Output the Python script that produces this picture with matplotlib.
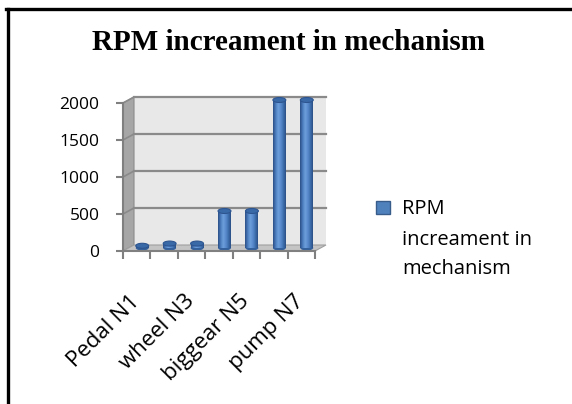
import matplotlib
matplotlib.use("Agg")
import matplotlib.pyplot as plt
import numpy as np
from matplotlib.patches import Rectangle, Ellipse, Polygon
from matplotlib.lines import Line2D
from matplotlib.colors import LinearSegmentedColormap
import matplotlib.transforms as mtransforms

categories = ["Pedal N1", "N2", "wheel N3", "N4", "biggear N5", "N6", "pump N7"]
values = [30, 60, 60, 500, 500, 2000, 2000]
yticks = [0, 500, 1000, 1500, 2000]
series_name = "RPM\nincreament in\nmechanism"
title = "RPM increament in mechanism"

W, H = 572, 404
fig = plt.figure(figsize=(W / 100, H / 100), dpi=100)
fig.patch.set_facecolor("white")

left, right = 123, 315
y0, y1 = 251, 103
ax = fig.add_axes([left / W, 1 - y0 / H, (right - left) / W, (y0 - y1) / H])
ax.set_xlim(-0.5, len(categories) - 0.5)
ax.set_ylim(0, 2000)
ax.patch.set_alpha(0)
for s in ["top", "right"]:
    ax.spines[s].set_visible(False)
ax.spines["left"].set_color("#808080")
ax.spines["bottom"].set_color("#808080")
ax.spines["left"].set_linewidth(1.5)
ax.spines["bottom"].set_linewidth(1.5)

font = "Open Sans"
ax.set_yticks(yticks)
ax.set_yticklabels([str(v) for v in yticks], fontsize=12.5, family=font)
ax.tick_params(axis="y", length=5, width=1.5, color="#808080", pad=12)

xs = np.arange(len(categories))
ax.set_xticks(xs)
ax.set_xticklabels([c if i % 2 == 0 else "" for i, c in enumerate(categories)],
                   rotation=45, ha="right", va="center", rotation_mode="anchor",
                   fontsize=16, family=font)
ax.tick_params(axis="x", which="major", length=0, pad=34)
ax.set_xticks(np.arange(-0.5, len(categories)), minor=True)
ax.tick_params(axis="x", which="minor", length=6, width=1.5, color="#808080")

DX, DY = 11, 6
back = ax.transData + mtransforms.ScaledTranslation(DX / 100, DY / 100, fig.dpi_scale_trans)
mid = ax.transData + mtransforms.ScaledTranslation(DX / 200, DY / 200, fig.dpi_scale_trans)

xl0, xl1 = -0.5, len(categories) - 0.5
ymax = yticks[-1]
ax.add_patch(Rectangle((xl0, 0), xl1 - xl0, ymax, transform=back,
                       facecolor="#e8e8e8", edgecolor="none", zorder=0.1, clip_on=False))

def disp(pt, tr):
    return tr.transform(pt)

def poly_disp(pts_tr, **kw):
    pts = [disp(p, t) for p, t in pts_tr]
    poly = Polygon(pts, closed=True, transform=None, clip_on=False, **kw)
    ax.add_artist(poly)
    return poly

fig.canvas.draw()
poly_disp([((xl0, 0), ax.transData), ((xl0, ymax), ax.transData),
           ((xl0, ymax), back), ((xl0, 0), back)],
          facecolor="#a6a6a6", edgecolor="#8c8c8c", lw=0.8, zorder=0.2)
poly_disp([((xl0, 0), ax.transData), ((xl1, 0), ax.transData),
           ((xl1, 0), back), ((xl0, 0), back)],
          facecolor="#c4c4c4", edgecolor="#a0a0a0", lw=0.8, zorder=0.3)

for v in yticks[1:]:
    ax.add_line(Line2D([xl0, xl1], [v, v], transform=back, color="#8a8a8a",
                       lw=1.6, zorder=0.25, clip_on=False))
    p0 = disp((xl0, v), ax.transData)
    p1 = disp((xl0, v), back)
    ax.add_line(Line2D([p0[0], p1[0]], [p0[1], p1[1]], transform=None,
                       color="#8a8a8a", lw=1.2, zorder=0.25, clip_on=False))

cmap = LinearSegmentedColormap.from_list(
    "cyl", ["#2a4f85", "#4a7bbc", "#6e9fdc", "#5a8ccd", "#3f6fae", "#2a4f85"])
grad = np.linspace(0, 1, 64).reshape(1, -1)
bw = 0.47
px_per_unit = (y0 - y1) / ymax
ell_h = 5 / px_per_unit
for x, v in zip(xs, values):
    rect = Rectangle((x - bw / 2, 0), bw, v, transform=mid, facecolor="#4f81bd",
                     edgecolor="none", zorder=2, clip_on=False)
    ax.add_patch(rect)
    im = ax.imshow(grad, cmap=cmap, aspect="auto", extent=[x - bw / 2, x + bw / 2, 0, v],
                   zorder=2.1, interpolation="bilinear")
    im.set_transform(mid)
    im.set_clip_path(rect)
    ax.add_patch(Ellipse((x, 0), bw, ell_h, transform=mid, facecolor="#34609c",
                         edgecolor="none", zorder=1.9, clip_on=False))
    ax.add_patch(Ellipse((x, v), bw, ell_h, transform=mid, facecolor="#3a69a8",
                         edgecolor="#2d5590", lw=0.8, zorder=2.2, clip_on=False))
ax.set_xlim(-0.5, len(categories) - 0.5)
ax.set_ylim(0, 2000)

fig.text(288 / W, 1 - 42 / H, title, ha="center", va="center", fontsize=21,
         fontweight="bold", family="Liberation Serif")

fig.add_artist(Rectangle((376 / W, 1 - 214 / H), 14 / W, 13 / H, transform=fig.transFigure,
                         facecolor="#4f81bd", edgecolor="#385d8a", lw=1))
for line, base in zip(series_name.split("\n"), [214, 245, 274]):
    fig.text(402 / W, 1 - base / H, line, ha="left", va="baseline", fontsize=14.5,
             family=font)

fig.add_artist(Line2D([6 / W, 1], [1 - 9 / H, 1 - 9 / H], transform=fig.transFigure,
                      color="black", lw=2.4))
fig.add_artist(Line2D([8 / W, 8 / W], [0, 1 - 9 / H], transform=fig.transFigure,
                      color="black", lw=2.4))

fig.savefig("out.png", dpi=100)
